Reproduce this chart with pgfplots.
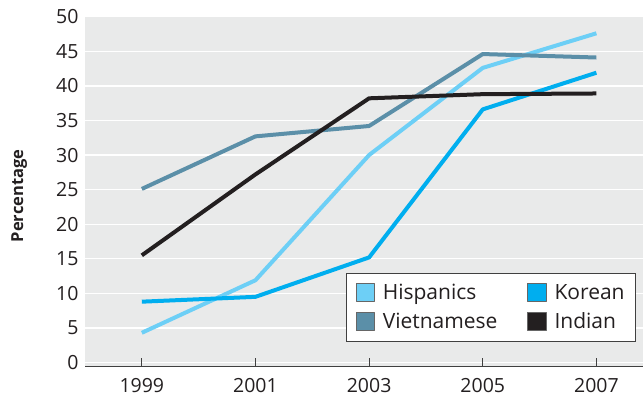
\documentclass[border=0pt]{standalone}
\usepackage{pgfplots}
\pgfplotsset{compat=1.18}
\usepackage{fontspec}
\setmainfont{Open Sans}
\definecolor{hisp}{HTML}{6DCFF6}
\definecolor{viet}{HTML}{5B8FA8}
\definecolor{kor}{HTML}{00AEEF}
\definecolor{ind}{HTML}{231F20}
\definecolor{bg}{HTML}{E9EAEA}
\definecolor{axisgray}{HTML}{404040}
\begin{document}
\begin{tikzpicture}
\begin{axis}[
  scale only axis,
  width=558pt, height=349.3pt,
  xmin=1998, xmax=2007.82,
  ymin=-0.5, ymax=50,
  axis background/.style={fill=bg},
  axis line style={draw=none},
  axis x line*=bottom,
  axis y line*=left,
  xtick={1999,2001,2003,2005,2007},
  xticklabels={1999,2001,2003,2005,2007},
  ytick={0,5,...,50},
  ymajorgrids,
  grid style={white, line width=1.4pt},
  tick align=inside,
  major tick length=8pt,
  xtick style={draw=axisgray, line width=0.8pt},
  ytick style={draw=none},
  /pgf/number format/assume math mode=true,
  tick label style={font=\fontsize{19.5}{23}\selectfont, text=ind},
  xticklabel style={yshift=-9pt},
  yticklabel style={xshift=-3pt},
  ylabel={\textbf{Percentage}},
  ylabel style={at={(axis description cs:-0.118,0.487)}, anchor=center, font=\fontsize{16.5}{20}\selectfont, text=ind},
  legend columns=2,
  legend cell align=left,
  legend style={at={(axis description cs:0.9875,0.0696)}, anchor=south east,
    fill=white, draw=axisgray, line width=0.8pt,
    font=\fontsize{21}{25}\selectfont, text=ind,
    inner xsep=9pt, inner ysep=9pt,
    row sep=8pt,
    /tikz/every odd column/.append style={column sep=6pt},
    /tikz/every even column/.append style={column sep=28pt}},
  every axis plot/.append style={line width=4pt, line join=round},
  clip=false,
  after end axis/.code={\draw[axisgray, line width=1pt] (axis cs:1998,-0.5) -- (axis cs:2007.82,-0.5);}
]
\addplot[hisp, legend image code/.code={\draw[fill=hisp, draw=gray!80!black, line width=0.6pt] (0pt,-9pt) rectangle (18.5pt,9.5pt);}]
  coordinates {(1999,4.3) (2001,11.9) (2003,30.0) (2005,42.6) (2007,47.6)};
\addlegendentry{Hispanics}
\addplot[kor, legend image code/.code={\draw[fill=kor, draw=gray!80!black, line width=0.6pt] (0pt,-9pt) rectangle (18.5pt,9.5pt);}]
  coordinates {(1999,8.8) (2001,9.5) (2003,15.2) (2005,36.6) (2007,41.9)};
\addlegendentry{Korean}
\addplot[viet, legend image code/.code={\draw[fill=viet, draw=gray!80!black, line width=0.6pt] (0pt,-9pt) rectangle (18.5pt,9.5pt);}]
  coordinates {(1999,25.1) (2001,32.7) (2003,34.2) (2005,44.6) (2007,44.1)};
\addlegendentry{Vietnamese}
\addplot[ind, legend image code/.code={\draw[fill=ind, draw=gray!80!black, line width=0.6pt] (0pt,-9pt) rectangle (18.5pt,9.5pt);}]
  coordinates {(1999,15.5) (2001,27.2) (2003,38.2) (2005,38.8) (2007,38.9)};
\addlegendentry{Indian}
\end{axis}
\pgfresetboundingbox
\path ([xshift=-85pt,yshift=-33pt]current axis.south west) rectangle ([yshift=16.7pt]current axis.north east);
\end{tikzpicture}
\end{document}
